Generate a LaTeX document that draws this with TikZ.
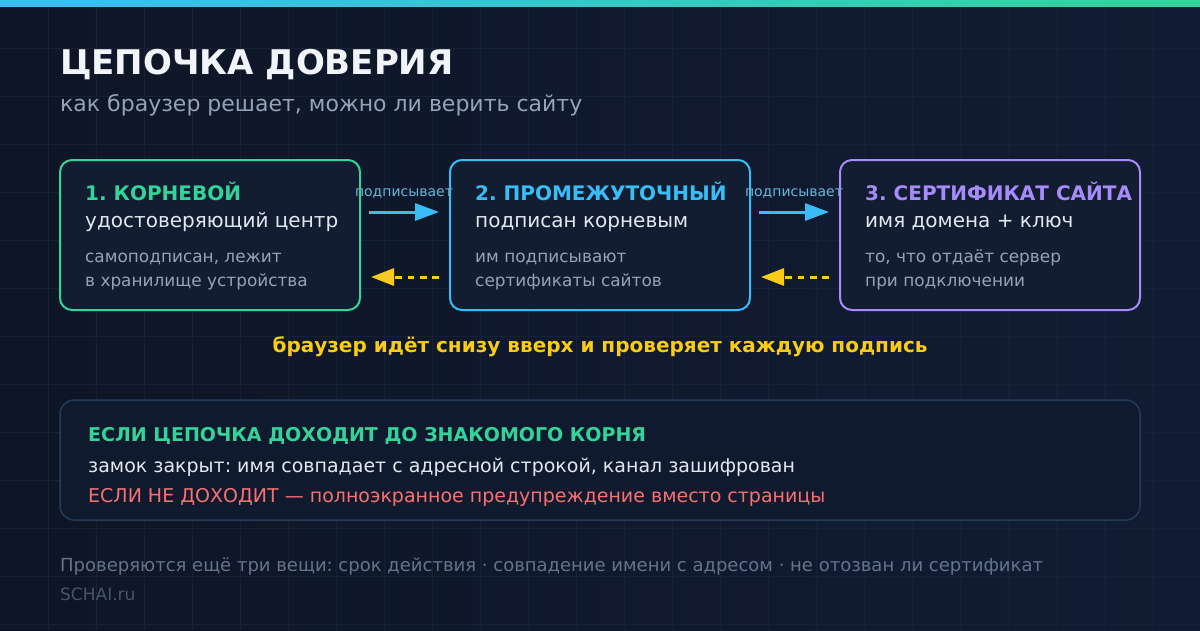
\documentclass[tikz,border=0pt]{standalone}
\usepackage{fontspec}
\setmainfont{DejaVu Sans}
\usetikzlibrary{arrows.meta}
\definecolor{ctBgA}{HTML}{0E1526}
\definecolor{ctBgB}{HTML}{111C34}
\definecolor{ctCard}{HTML}{131D31}
\definecolor{ctPanel}{HTML}{101A2E}
\definecolor{ctEdge}{HTML}{243B5A}
\definecolor{ctGrid}{HTML}{162134}
\definecolor{ctGreen}{HTML}{34D399}
\definecolor{ctSky}{HTML}{38BDF8}
\definecolor{ctViolet}{HTML}{A78BFA}
\definecolor{ctGold}{HTML}{FACC15}
\definecolor{ctRed}{HTML}{F87171}
\definecolor{ctWhite}{HTML}{F1F5F9}
\definecolor{ctLight}{HTML}{E2E8F0}
\definecolor{ctMuted}{HTML}{94A3B8}
\definecolor{ctDim}{HTML}{64748B}
\definecolor{ctFaint}{HTML}{475569}
\definecolor{ctTag}{HTML}{6AB4DA}
\newcommand{\ctsize}[1]{\fontsize{#1}{#1}\selectfont}
\frenchspacing
\tikzset{
  ct grid/.style={draw=ctGrid, line width=1pt},
  ct card/.style={draw=#1, fill=ctCard, line width=2pt, rounded corners=12pt, minimum width=300pt, minimum height=150pt, inner sep=0pt},
  ct panel/.style={draw=ctEdge, fill=ctPanel, line width=1.5pt, rounded corners=14pt, minimum width=1080pt, minimum height=120pt, inner sep=0pt},
  ct text/.style={anchor=base west, inner sep=0pt},
  ct head/.style={ct text, font=\bfseries\ctsize{20}, text=#1},
  ct line/.style={ct text, font=\ctsize{20}, text=ctLight},
  ct note/.style={ct text, font=\ctsize{16.9}, text=ctMuted},
  ct tag/.style={anchor=base, inner sep=0pt, font=\ctsize{14}, text=ctTag},
  ct sign/.style={draw=ctSky, line width=3pt, -{Triangle[length=24pt,width=17pt]}},
  ct check/.style={draw=ctGold, line width=3pt, dash pattern=on 6.7pt off 5.6pt, -{Triangle[length=23pt,width=17pt]}},
}

\begin{document}
\begin{tikzpicture}[x=1pt,y=-1pt]
  \useasboundingbox (0,0) rectangle (1200,630);
  \shade[left color=ctBgA, right color=ctBgB] (0,0) rectangle (1200,630);
  \foreach \x in {48,96,...,1152} {
    \draw[ct grid] (\x,0) -- (\x,630);
  }
  \foreach \y in {48,96,...,624} {
    \draw[ct grid] (0,\y) -- (1200,\y);
  }
  \shade[left color=ctSky, right color=ctGreen] (0,0) rectangle (1200,6);

  \node[ct text, font=\bfseries\ctsize{34}, text=ctWhite] (title) at (60,74) {ЦЕПОЧКА ДОВЕРИЯ};
  \node[ct text, font=\ctsize{22}, text=ctMuted] (subtitle) at (60,111) {как браузер решает, можно ли верить сайту};

  \foreach \n/\x/\col/\h/\l/\a/\b in {
      root/210/ctGreen/{1. КОРНЕВОЙ}/{удостоверяющий центр}/{самоподписан, лежит}/{в хранилище устройства},
      mid/600/ctSky/{2. ПРОМЕЖУТОЧНЫЙ}/{подписан корневым}/{им подписывают}/{сертификаты сайтов},
      site/990/ctViolet/{3. СЕРТИФИКАТ САЙТА}/{имя домена + ключ}/{то, что отдаёт сервер}/{при подключении}} {
    \node[ct card=\col] (\n) at (\x,235) {};
    \node[ct head=\col] (\n-head) at (\x-125,200) {\h};
    \node[ct line] (\n-line) at (\x-125,227) {\l};
    \node[ct note] (\n-notea) at (\x-125,262) {\a};
    \node[ct note] (\n-noteb) at (\x-125,286) {\b};
  }

  \draw[ct sign] ([shift={(8,-23)}]root.east) -- ([shift={(-10,-23)}]mid.west);
  \draw[ct sign] ([shift={(8,-23)}]mid.east) -- ([shift={(-10,-23)}]site.west);
  \node[ct tag] (tag-a) at (404,196) {подписывает};
  \node[ct tag] (tag-b) at (794,196) {подписывает};
  \draw[ct check] ([shift={(-10,42)}]mid.west) -- ([shift={(10,42)}]root.east);
  \draw[ct check] ([shift={(-10,42)}]site.west) -- ([shift={(10,42)}]mid.east);

  \node[anchor=base, inner sep=0pt, font=\bfseries\ctsize{20}, text=ctGold] (upward) at (600,352) {браузер идёт снизу вверх и проверяет каждую подпись};

  \node[ct panel] (verdict) at (600,460) {};
  \node[ct head=ctGreen, font=\bfseries\ctsize{19}] (verdict-head) at (88,441) {ЕСЛИ ЦЕПОЧКА ДОХОДИТ ДО ЗНАКОМОГО КОРНЯ};
  \node[ct line, font=\ctsize{19}] (verdict-ok) at (88,472) {замок закрыт: имя совпадает с адресной строкой, канал зашифрован};
  \node[ct line, font=\ctsize{19}, text=ctRed] (verdict-fail) at (88,502) {ЕСЛИ НЕ ДОХОДИТ — полноэкранное предупреждение вместо страницы};

  \node[ct text, font=\ctsize{18}, text=ctDim] (footnote) at (60,571) {Проверяются ещё три вещи: срок действия · совпадение имени с адресом · не отозван ли сертификат};
  \node[ct text, font=\ctsize{17}, text=ctFaint] (brand) at (60,600) {SCHAI.ru};
\end{tikzpicture}
\end{document}
